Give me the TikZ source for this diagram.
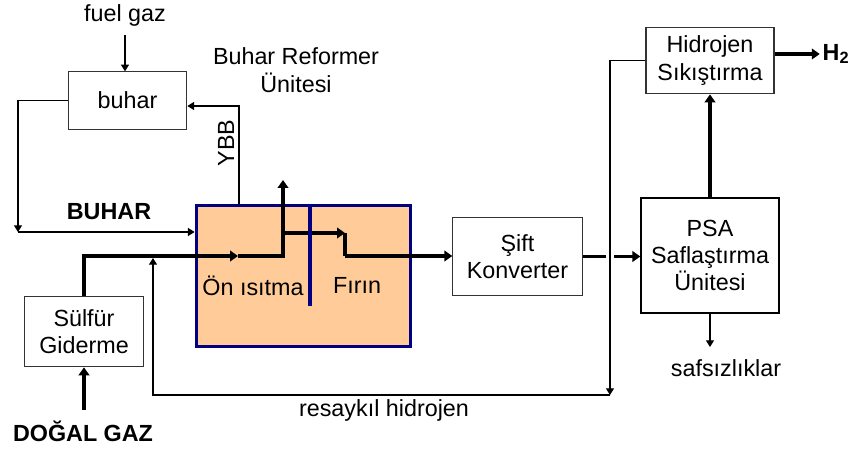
\documentclass[tikz,border=0pt]{standalone}
\usepackage{fontspec}
\setmainfont{Liberation Sans}
\usetikzlibrary{arrows.meta, positioning, calc}
\definecolor{peach}{HTML}{FFCC99}
\definecolor{navy}{HTML}{000080}
\definecolor{boxgray}{HTML}{333333}

\begin{document}
\begin{tikzpicture}[
  x=0.75pt, y=-0.75pt,
  font=\fontsize{17.5}{20.6}\selectfont,
  unitbox/.style={draw=boxgray, line width=0.8pt, align=center, inner sep=0pt},
  thinarr/.style={line width=0.8pt, -{Triangle[length=5pt, width=6pt]}},
  thickline/.style={line width=2.3pt},
  thickarr/.style={line width=2.3pt, -{Triangle[length=6pt, width=8pt]}},
]
\useasboundingbox (0,0) rectangle (851,449);

% =============================================
% Units
% =============================================

% Reformer (filled block)
\node[fill=peach, draw=navy, line width=2.3pt, minimum width=161pt,
  minimum height=106pt, inner sep=0pt] (ref) at (303.5,276) {};
\node (onis) at (253,286) {Ön ısıtma};
\node (firin) at (357,285) {Fırın};

\node[unitbox, minimum width=89pt, minimum height=43pt] (buhar) at (127.5,100.5) {buhar};
\node[unitbox, minimum width=89pt, minimum height=53pt] (sul) at (84,331.5) {Sülfür\\Giderme};
\node[unitbox, minimum width=97pt, minimum height=58pt] (sift) at (517.5,256.5) {Şift\\Konverter};
\node[unitbox, line width=1.5pt, draw=black, minimum width=103pt,
  minimum height=86pt] (psa) at (710,255.5) {PSA\\Saflaştırma\\Ünitesi};
\node[unitbox, minimum width=96pt, minimum height=50pt] (hid) at (710,60.5) {Hidrojen\\Sıkıştırma};

% =============================================
% Labels
% =============================================

\node (fuel) at (125,15) {fuel gaz};
\node[align=center] (title) at (296,70) {Buhar Reformer\\Ünitesi};
\node[rotate=90] (ybb) at (226,143) {YBB};
\node[font=\fontsize{17.5}{20.6}\selectfont\bfseries] (bhr) at (109,212) {BUHAR};
\node[font=\fontsize{17.5}{20.6}\selectfont\bfseries] (dg) at (83,431) {DOĞAL GAZ};
\node (res) at (384,410) {resaykıl hidrojen};
\node (saf) at (726,368) {safsızlıklar};
\node[font=\fontsize{17.5}{20.6}\selectfont\bfseries, inner sep=2pt] (h2) at (836,54) {H$_{\mathbf 2}$};

% =============================================
% Connectors
% =============================================

\coordinate (fuelin) at (125,35);
\coordinate (bcorner) at (18,232);
\coordinate (ybbtop) at (239,106);
\coordinate (pmid) at (238,256);
\coordinate (jn1) at (283,256);
\coordinate (jn2) at (283,233);
\coordinate (stack) at (283,180);
\coordinate (fmid) at (345,233);
\coordinate (fout) at (345,256);
\coordinate (rc) at (610,395);
\coordinate (rin) at (153,258);
\coordinate (sout) at (710,347);
\coordinate (dgin) at (84,410);

% fuel and steam
\draw[thinarr] (fuelin) -- (fuelin |- buhar.north);
\draw[thinarr] (ybbtop |- ref.north) -- (ybbtop) -- (buhar.east |- ybbtop);
\draw[thinarr] (buhar.west) -| (bcorner);
\draw[thinarr] (bcorner) -- (bcorner -| ref.west);

% process gas
\draw[thickarr] (sul.north) |- (pmid);
\draw[thickline] (pmid) -- (jn1) -- (jn2);
\draw[thickarr] (jn2) -- (stack);
\draw[thickarr] (jn2) -- (fmid);
\draw[thickline] (fmid) -- (fout);
\draw[thickarr] (fout) -- (sift.west |- fout);
\draw[thickarr] (sift.east) -- (sift.east -| psa.west);
\draw[thickarr] (psa.north) -- (hid.south);
\draw[thickarr] (hid.east |- h2.west) -- (h2.west);
\draw[thickarr] (dgin) -- (sul.south);

% divider inside reformer
\draw[navy, line width=2.3pt] (310,205) -- (310,306);

% recycle hydrogen
\fill[white] (606,250) rectangle (614,264);
\draw[thinarr] (hid.west) -| (rc);
\draw[thinarr] (rc) -| (rin);

% impurities
\draw[thinarr] (psa.south) -- (sout);

\end{tikzpicture}
\end{document}
